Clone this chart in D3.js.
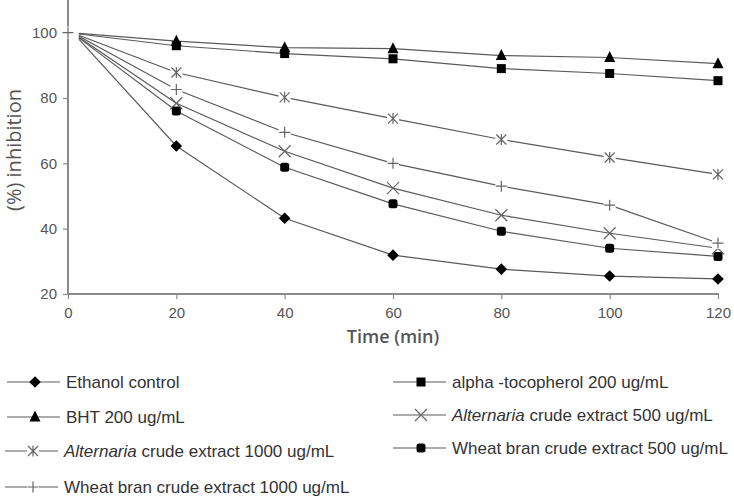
<!DOCTYPE html>
<html>
<head>
<meta charset="utf-8">
<script src="https://cdn.jsdelivr.net/npm/d3@7"></script>
<style>
  body { margin: 0; background: #fff; }
  svg { display: block; }
</style>
</head>
<body>
<svg id="chart" width="734" height="499"></svg>
<script>
// --- DATA ---
const times = [2, 20, 40, 60, 80, 100, 120];
const ethanol = [98.0, 65.3, 43.2, 31.9, 27.6, 25.5, 24.6];
const alphaToco = [99.6, 96.0, 93.6, 92.0, 89.0, 87.5, 85.3];
const bht = [99.8, 97.4, 95.4, 95.1, 93.0, 92.4, 90.5];
const alt500 = [98.6, 78.4, 63.7, 52.4, 44.1, 38.6, 34.0];
const alt1000 = [99.2, 87.8, 80.2, 73.7, 67.3, 61.8, 56.6];
const wb500 = [98.4, 76.0, 58.8, 47.6, 39.2, 34.0, 31.5];
const wb1000 = [98.9, 82.6, 69.5, 60.0, 53.0, 47.2, 35.6];
// lone marker sitting on the y axis
const originTime = [0];
const originValue = [100];

const xTicks = [0, 20, 40, 60, 80, 100, 120];
const yTicks = [20, 40, 60, 80, 100];

const seriesNames = [
  "Ethanol control", "alpha -tocopherol 200 ug/mL", "BHT 200 ug/mL",
  "Alternaria crude extract 500 ug/mL", "Alternaria crude extract 1000 ug/mL",
  "Wheat bran crude extract 500 ug/mL", "Wheat bran crude extract 1000 ug/mL"
];
const seriesValues = [ethanol, alphaToco, bht, alt500, alt1000, wb500, wb1000];
const seriesMarkers = ["diamond", "square", "triangle", "x", "star", "smallsquare", "plus"];

// --- SETUP ---
const svg = d3.select("#chart");
const x = d3.scaleLinear().domain([0, 120]).range([68, 718]);
const y = d3.scaleLinear().domain([20, 110]).range([294, 0]);

const lineCol = "#5a5a5a";
const axisCol = "#8a8a8a";

// marker drawing
function drawMarker(g, type, cx, cy) {
  const m = g.append("g").attr("transform", `translate(${cx},${cy})`);
  if (type === "diamond") {
    m.append("path").attr("d", "M0,-5.8L5.8,0L0,5.8L-5.8,0Z").attr("fill", "#000");
  } else if (type === "square") {
    m.append("rect").attr("x", -4.5).attr("y", -4.5).attr("width", 9).attr("height", 9).attr("fill", "#000");
  } else if (type === "smallsquare") {
    m.append("rect").attr("x", -4.5).attr("y", -4.5).attr("width", 9).attr("height", 9).attr("rx", 2.5).attr("fill", "#000");
  } else if (type === "triangle") {
    m.append("path").attr("d", "M0,-6.5L5.5,4.5L-5.5,4.5Z").attr("fill", "#000");
  } else if (type === "x") {
    m.append("path").attr("d", "M-6,-6L6,6M-6,6L6,-6").attr("stroke", "#666").attr("stroke-width", 1.2);
  } else if (type === "star") {
    m.append("rect").attr("x", -6).attr("y", -6).attr("width", 12).attr("height", 12).attr("fill", "#fff");
    m.append("path").attr("d", "M-5,-5L5,5M-5,5L5,-5M0,-5.5L0,5.5").attr("stroke", "#666").attr("stroke-width", 1.2);
  } else if (type === "plus") {
    m.append("rect").attr("x", -6).attr("y", -6).attr("width", 12).attr("height", 12).attr("fill", "#fff");
    m.append("path").attr("d", "M-5.5,0L5.5,0M0,-5.5L0,5.5").attr("stroke", "#666").attr("stroke-width", 1.2);
  }
}

// --- AXES ---
const yAxis = svg.append("g").attr("transform", `translate(${x(0)},0)`)
  .call(d3.axisLeft(y).tickValues(yTicks).tickSize(5).tickPadding(6));
yAxis.select(".domain").attr("d", `M0,0V${y(20)}`);
const xAxis = svg.append("g").attr("transform", `translate(0,${y(20)})`)
  .call(d3.axisBottom(x).tickValues(xTicks).tickSize(5).tickPadding(8));
xAxis.select(".domain").attr("d", `M${x(0)},0H${x(120) + 1}`);
[yAxis, xAxis].forEach(a => {
  a.select(".domain").attr("stroke", axisCol).attr("stroke-width", 2);
  a.selectAll(".tick line").attr("stroke", axisCol).attr("stroke-width", 1.2);
  a.selectAll(".tick text").attr("fill", "#555").attr("font-family", "Liberation Sans, Arial, sans-serif").attr("font-size", 15);
});

svg.append("text").attr("x", 393).attr("y", 343).attr("text-anchor", "middle")
  .attr("font-family", "Open Sans, sans-serif").attr("font-weight", 600).attr("font-size", 18)
  .attr("fill", "#555").text("Time (min)");
svg.append("text").attr("transform", "translate(21,150) rotate(-90)").attr("text-anchor", "middle")
  .attr("font-family", "Open Sans, sans-serif").attr("font-size", 20)
  .attr("fill", "#555").text("(%) inhibition");

// --- LINES & MARKERS ---
const line = d3.line().x(d => x(d[0])).y(d => y(d[1]));
const plot = svg.append("g");
seriesValues.forEach((vals, i) => {
  const pts = times.map((t, j) => [t, vals[j]]);
  plot.append("path").datum(pts).attr("d", line)
    .attr("fill", "none").attr("stroke", lineCol).attr("stroke-width", 1.2);
});
seriesValues.forEach((vals, i) => {
  times.forEach((t, j) => {
    if (j === 0) return;
    drawMarker(plot, seriesMarkers[i], x(t), y(vals[j]));
  });
});
originTime.forEach((t, j) => drawMarker(plot, "plus", x(t), y(originValue[j])));

// --- LEGEND ---
const legendPos = [
  [7, 382], [393, 382], [7, 417], [393, 415], [5, 451], [393, 448], [5, 487]
];
seriesNames.forEach((name, i) => {
  const [lx, ly] = legendPos[i];
  const g = svg.append("g");
  g.append("line").attr("x1", lx).attr("x2", lx + 53).attr("y1", ly).attr("y2", ly)
    .attr("stroke", lineCol).attr("stroke-width", 1.2);
  drawMarker(g, seriesMarkers[i], lx + 28, ly);
  const t = g.append("text").attr("x", lx + 59).attr("y", ly + 6)
    .attr("font-family", "Liberation Sans, Arial, sans-serif").attr("font-size", 17).attr("fill", "#333");
  if (name.startsWith("Alternaria")) {
    t.append("tspan").attr("font-style", "italic").text("Alternaria");
    t.append("tspan").text(name.slice("Alternaria".length));
  } else {
    t.text(name);
  }
});
</script>
</body>
</html>
